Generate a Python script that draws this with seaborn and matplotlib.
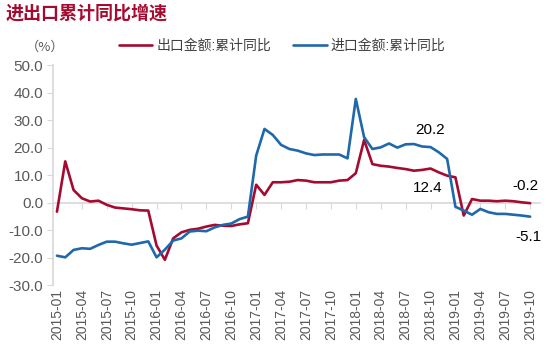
import matplotlib
matplotlib.use('Agg')
import numpy as np
import pandas as pd
import matplotlib.pyplot as plt
import seaborn as sns

# 月度数据 2015-01 ~ 2019-10
months = pd.date_range('2015-01-01', '2019-10-01', freq='MS').strftime('%Y-%m').tolist()

export_yoy = [-3.3, 15.0, 4.6, 1.6, 0.4, 0.7, -0.8, -1.8, -2.1, -2.4, -2.8, -2.9,
              -15.6, -20.8, -13.0, -10.8, -9.9, -9.5, -8.7, -8.1, -8.4, -8.5, -7.9, -7.5,
              6.5, 2.8, 7.4, 7.4, 7.6, 8.2, 8.0, 7.4, 7.4, 7.4, 8.0, 8.2,
              10.7, 22.8, 14.0, 13.4, 13.1, 12.6, 12.2, 11.6, 11.9, 12.4, 11.0, 9.8,
              9.2, -4.7, 1.3, 0.7, 0.7, 0.5, 0.7, 0.5, 0.1, -0.2]
import_yoy = [-19.3, -19.9, -17.2, -16.6, -16.8, -15.4, -14.2, -14.2, -14.8, -15.3, -14.7, -14.1,
              -19.9, -17.1, -13.8, -13.0, -10.5, -10.2, -10.4, -9.0, -8.1, -7.6, -6.0, -5.1,
              17.1, 26.8, 24.6, 21.0, 19.5, 18.9, 17.9, 17.3, 17.5, 17.5, 17.5, 16.1,
              37.7, 23.8, 19.5, 20.1, 21.5, 20.0, 21.2, 21.3, 20.4, 20.2, 18.3, 15.9,
              -1.5, -2.9, -4.4, -2.3, -3.5, -4.1, -4.1, -4.4, -4.7, -5.1]
series_names = ['出口金额:累计同比', '进口金额:累计同比']
colors = ['#A50B30', '#1F69AB']

sns.set_theme(style='white')
plt.rcParams['font.family'] = ['Liberation Sans', 'Noto Sans CJK SC', 'DejaVu Sans']

pos = np.arange(len(months))
df = pd.DataFrame({'pos': np.concatenate([pos, pos]),
                   'val': export_yoy + import_yoy,
                   'name': [series_names[0]] * len(pos) + [series_names[1]] * len(pos)})

fig = plt.figure(figsize=(5.5, 3.52), dpi=100)
ax = fig.add_axes([0.096, 0.19, 0.886, 0.625])

sns.lineplot(data=df, x='pos', y='val', hue='name', hue_order=series_names,
             palette=dict(zip(series_names, colors)), linewidth=1.9, ax=ax, legend=False)

ax.set_xlim(-0.5, 58.2)
ax.set_ylim(-30, 50)
ax.set_yticks(np.arange(-30, 51, 10))
ax.set_yticklabels(['%.1f' % v for v in np.arange(-30, 51, 10)])
ax.set_xticks(pos[::3])
ax.set_xticklabels(months[::3], rotation=90)
ax.set_xlabel('')
ax.set_ylabel('')

for s in ['top', 'right', 'bottom']:
    ax.spines[s].set_visible(False)
ax.spines['left'].set_color('#D9D9D9')
ax.tick_params(axis='y', colors='#595959', labelsize=11, length=4, width=0.8,
               direction='out', left=True, color='#D9D9D9', pad=3)
ax.tick_params(axis='x', colors='#595959', labelsize=10, length=0, pad=3)

# 零轴线及刻度
zero = ax.secondary_xaxis((0 - (-30)) / 80)
zero.set_xticks(pos[::3])
zero.set_xticklabels([])
zero.spines['bottom'].set_color('#D9D9D9')
zero.tick_params(axis='x', direction='out', length=4, width=0.8, color='#D9D9D9')

# 标注
lab = dict(fontsize=11, color='black', ha='center', va='center', textcoords='offset points')
ax.annotate('%.1f' % import_yoy[45], (pos[45], import_yoy[45]), xytext=(0, 12.6), **lab)
ax.annotate('%.1f' % export_yoy[45], (pos[45], export_yoy[45]), xytext=(-2, -13.7), **lab)
ax.annotate('%.1f' % export_yoy[-1], (pos[-1], export_yoy[-1]), xytext=(-3.6, 12.6), **lab)
ax.annotate('%.1f' % import_yoy[-1], (pos[-1], import_yoy[-1]), xytext=(-1.4, -15), **lab)

handles = [plt.Line2D([], [], color=c, lw=1.9) for c in colors]
ax.legend(handles, series_names, loc='upper left', bbox_to_anchor=(0.11, 1.175), ncol=2,
          frameon=False, fontsize=10, handlelength=2.4, handletextpad=0.3, columnspacing=1.6,
          labelcolor='#404040')

fig.text(0.082, 0.865, '（%）', family=['Noto Sans CJK SC'], fontsize=9.5, color='#595959',
         ha='center', va='center')
fig.text(0.01, 0.962, '进出口累计同比增速', fontsize=13, fontweight='bold',
         color='#A50B30', ha='left', va='center')

fig.savefig('out.png', dpi=100)
